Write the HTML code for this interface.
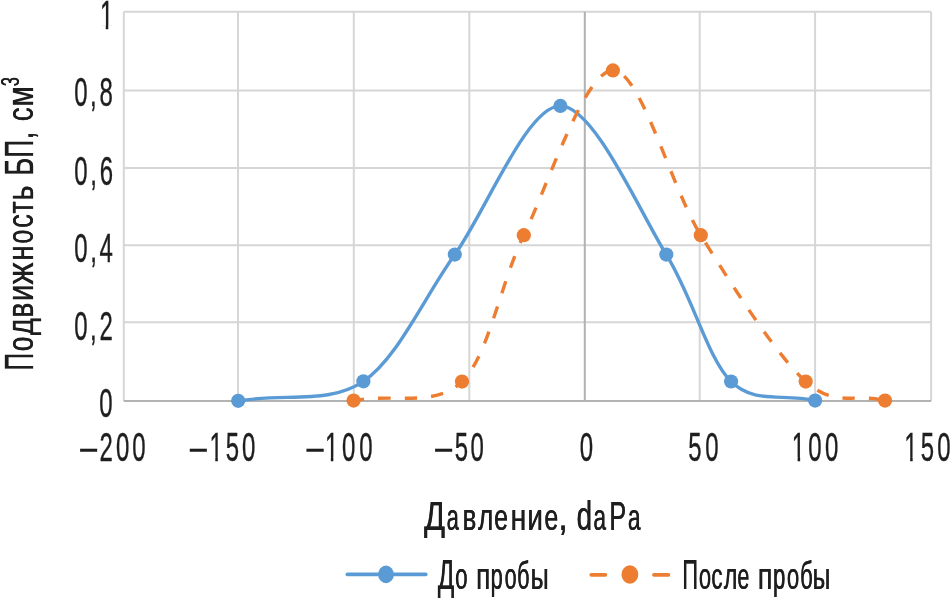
<!DOCTYPE html>
<html><head><meta charset="utf-8"><style>
html,body{margin:0;padding:0;background:#fff;}
svg{display:block;will-change:transform;}
.t{font-family:"Liberation Sans",sans-serif;fill:#1e1e1e;stroke:#1e1e1e;stroke-width:0.4;font-kerning:none;}
.tt{font-family:"Liberation Sans",sans-serif;fill:#1e1e1e;stroke:#1e1e1e;stroke-width:0.15;font-kerning:none;}
</style></head><body>
<svg width="951" height="611" viewBox="0 0 951 611">
<defs><clipPath id="c1" clipPathUnits="userSpaceOnUse"><rect x="-10" y="-45" width="50" height="41.3"/><rect x="10.0" y="-4" width="4.25" height="14"/></clipPath></defs>
<rect x="0" y="0" width="951" height="611" fill="#fff"/>
<line x1="123.80" y1="11.80" x2="123.80" y2="401.00" stroke="#d6d6d6" stroke-width="2"/>
<line x1="238.00" y1="11.80" x2="238.00" y2="401.00" stroke="#d6d6d6" stroke-width="2"/>
<line x1="353.80" y1="11.80" x2="353.80" y2="401.00" stroke="#d6d6d6" stroke-width="2"/>
<line x1="469.30" y1="11.80" x2="469.30" y2="401.00" stroke="#d6d6d6" stroke-width="2"/>
<line x1="699.70" y1="11.80" x2="699.70" y2="401.00" stroke="#d6d6d6" stroke-width="2"/>
<line x1="815.10" y1="11.80" x2="815.10" y2="401.00" stroke="#d6d6d6" stroke-width="2"/>
<line x1="931.10" y1="11.80" x2="931.10" y2="401.00" stroke="#d6d6d6" stroke-width="2"/>
<line x1="123.80" y1="11.80" x2="931.10" y2="11.80" stroke="#d6d6d6" stroke-width="2"/>
<line x1="123.80" y1="90.60" x2="931.10" y2="90.60" stroke="#d6d6d6" stroke-width="2"/>
<line x1="123.80" y1="168.00" x2="931.10" y2="168.00" stroke="#d6d6d6" stroke-width="2"/>
<line x1="123.80" y1="245.30" x2="931.10" y2="245.30" stroke="#d6d6d6" stroke-width="2"/>
<line x1="123.80" y1="322.30" x2="931.10" y2="322.30" stroke="#d6d6d6" stroke-width="2"/>
<line x1="584.80" y1="11.80" x2="584.80" y2="401.00" stroke="#b2b2b2" stroke-width="2"/>
<line x1="123.80" y1="401.00" x2="931.10" y2="401.00" stroke="#b2b2b2" stroke-width="2"/>
<path d="M238.20,400.80 C287.65,393.10 329.18,404.40 363.40,381.30 C397.62,358.20 423.67,298.11 454.80,254.60 C485.93,211.09 526.98,105.90 560.40,105.90 C593.82,105.90 639.33,211.06 666.30,254.60 C693.27,298.14 707.59,358.43 731.10,381.50 C754.61,404.57 781.92,393.06 815.10,400.60" fill="none" stroke="#5b9bd5" stroke-width="3.40" stroke-linecap="round" stroke-linejoin="round"/>
<path d="M353.60,400.60 C396.42,393.10 435.11,407.73 462.00,381.60 C488.89,355.47 499.96,284.37 523.80,235.20 C547.64,186.03 584.93,70.40 612.90,70.40 C640.87,70.40 670.34,186.03 700.80,235.20 C731.26,284.37 776.60,355.47 805.70,381.60 C834.80,407.73 853.68,393.10 885.00,400.60" fill="none" stroke="#ed7d31" stroke-width="3.40" stroke-dasharray="12.5 14.07" stroke-dashoffset="2.1" stroke-linecap="butt"/>
<circle cx="238.20" cy="400.80" r="7.10" fill="#5b9bd5"/>
<circle cx="363.40" cy="381.30" r="7.10" fill="#5b9bd5"/>
<circle cx="454.80" cy="254.60" r="7.10" fill="#5b9bd5"/>
<circle cx="560.40" cy="105.90" r="7.10" fill="#5b9bd5"/>
<circle cx="666.30" cy="254.60" r="7.10" fill="#5b9bd5"/>
<circle cx="731.10" cy="381.50" r="7.10" fill="#5b9bd5"/>
<circle cx="815.10" cy="400.60" r="7.10" fill="#5b9bd5"/>
<circle cx="353.60" cy="400.60" r="7.10" fill="#ed7d31"/>
<circle cx="462.00" cy="381.60" r="7.10" fill="#ed7d31"/>
<circle cx="523.80" cy="235.20" r="7.10" fill="#ed7d31"/>
<circle cx="612.90" cy="70.40" r="7.10" fill="#ed7d31"/>
<circle cx="700.80" cy="235.20" r="7.10" fill="#ed7d31"/>
<circle cx="805.70" cy="381.60" r="7.10" fill="#ed7d31"/>
<circle cx="885.00" cy="400.60" r="7.10" fill="#ed7d31"/>
<line x1="347.3" y1="574.4" x2="425.8" y2="574.4" stroke="#5b9bd5" stroke-width="3.6" stroke-linecap="round"/>
<ellipse cx="386.0" cy="574.4" rx="7.9" ry="8.8" fill="#5b9bd5"/>
<line x1="591.3" y1="574.8" x2="605.3" y2="574.8" stroke="#ed7d31" stroke-width="3.8" stroke-linecap="round"/>
<line x1="654.0" y1="574.8" x2="668.4" y2="574.8" stroke="#ed7d31" stroke-width="3.8" stroke-linecap="round"/>
<ellipse cx="629.9" cy="574.5" rx="8.4" ry="9.2" fill="#ed7d31"/>
<text class="t" transform="translate(99.92,28.90) scale(0.5850,1.0000)" font-size="41.00" clip-path="url(#c1)">1</text>
<text class="t" transform="translate(74.18,106.20) scale(0.5850,1.0000)" font-size="41.00">0</text>
<text class="t" transform="translate(90.12,106.20) scale(0.5850,1.0000)" font-size="41.00">,</text>
<text class="t" transform="translate(99.38,106.20) scale(0.5850,1.0000)" font-size="41.00">8</text>
<text class="t" transform="translate(74.18,184.55) scale(0.5850,1.0000)" font-size="41.00">0</text>
<text class="t" transform="translate(90.29,184.55) scale(0.5850,1.0000)" font-size="41.00">,</text>
<text class="t" transform="translate(99.71,184.55) scale(0.5850,1.0000)" font-size="41.00">6</text>
<text class="t" transform="translate(74.18,262.30) scale(0.5850,1.0000)" font-size="41.00">0</text>
<text class="t" transform="translate(90.21,262.30) scale(0.5850,1.0000)" font-size="41.00">,</text>
<text class="t" transform="translate(99.56,262.30) scale(0.5850,1.0000)" font-size="41.00">4</text>
<text class="t" transform="translate(74.18,339.90) scale(0.5850,1.0000)" font-size="41.00">0</text>
<text class="t" transform="translate(90.12,339.90) scale(0.5850,1.0000)" font-size="41.00">,</text>
<text class="t" transform="translate(99.38,339.90) scale(0.5850,1.0000)" font-size="41.00">2</text>
<text class="t" transform="translate(99.28,417.20) scale(0.5850,1.0000)" font-size="41.00">0</text>
<text class="t" transform="translate(78.49,462.27) scale(0.9605,1.0000)" font-size="36.00">−</text>
<text class="t" transform="translate(99.55,460.80) scale(0.5850,1.0000)" font-size="41.00">2</text>
<text class="t" transform="translate(115.95,460.80) scale(0.5850,1.0000)" font-size="41.00">0</text>
<text class="t" transform="translate(132.36,460.80) scale(0.5850,1.0000)" font-size="41.00">0</text>
<text class="t" transform="translate(188.29,462.27) scale(0.9605,1.0000)" font-size="36.00">−</text>
<text class="t" transform="translate(209.47,460.80) scale(0.5850,1.0000)" font-size="41.00" clip-path="url(#c1)">1</text>
<text class="t" transform="translate(225.79,460.80) scale(0.5850,1.0000)" font-size="41.00">5</text>
<text class="t" transform="translate(242.12,460.80) scale(0.5850,1.0000)" font-size="41.00">0</text>
<text class="t" transform="translate(305.09,462.27) scale(0.9605,1.0000)" font-size="36.00">−</text>
<text class="t" transform="translate(324.99,460.80) scale(0.5850,1.0000)" font-size="41.00" clip-path="url(#c1)">1</text>
<text class="t" transform="translate(342.10,460.80) scale(0.5850,1.0000)" font-size="41.00">0</text>
<text class="t" transform="translate(359.20,460.80) scale(0.5850,1.0000)" font-size="41.00">0</text>
<text class="t" transform="translate(433.39,462.27) scale(0.9605,1.0000)" font-size="36.00">−</text>
<text class="t" transform="translate(454.64,460.80) scale(0.5850,1.0000)" font-size="41.00">5</text>
<text class="t" transform="translate(470.60,460.80) scale(0.5850,1.0000)" font-size="41.00">0</text>
<text class="t" transform="translate(579.63,460.80) scale(0.5850,1.0000)" font-size="41.00">0</text>
<text class="t" transform="translate(688.34,460.80) scale(0.5850,1.0000)" font-size="41.00">5</text>
<text class="t" transform="translate(705.30,460.80) scale(0.5850,1.0000)" font-size="41.00">0</text>
<text class="t" transform="translate(791.79,460.80) scale(0.5850,1.0000)" font-size="41.00" clip-path="url(#c1)">1</text>
<text class="t" transform="translate(808.35,460.80) scale(0.5850,1.0000)" font-size="41.00">0</text>
<text class="t" transform="translate(824.90,460.80) scale(0.5850,1.0000)" font-size="41.00">0</text>
<text class="t" transform="translate(904.30,460.80) scale(0.5850,1.0000)" font-size="41.00" clip-path="url(#c1)">1</text>
<text class="t" transform="translate(920.73,460.80) scale(0.5850,1.0000)" font-size="41.00">5</text>
<text class="t" transform="translate(937.17,460.80) scale(0.5850,1.0000)" font-size="41.00">0</text>
<text class="tt" transform="translate(424.07,529.60) scale(0.7526,1.0000)" font-size="41.00">Д</text>
<text class="tt" transform="translate(424.37,529.60) scale(0.7526,1.0000)" font-size="41.00">Д</text>
<text class="tt" transform="translate(446.47,529.60) scale(0.5365,0.9000)" font-size="41.00">а</text>
<text class="tt" transform="translate(446.77,529.60) scale(0.5365,0.9000)" font-size="41.00">а</text>
<text class="tt" transform="translate(462.51,529.60) scale(0.6295,0.9000)" font-size="41.00">в</text>
<text class="tt" transform="translate(462.81,529.60) scale(0.6295,0.9000)" font-size="41.00">в</text>
<text class="tt" transform="translate(477.96,529.60) scale(0.6328,0.9000)" font-size="41.00">л</text>
<text class="tt" transform="translate(478.26,529.60) scale(0.6328,0.9000)" font-size="41.00">л</text>
<text class="tt" transform="translate(494.04,529.60) scale(0.6081,0.9000)" font-size="41.00">е</text>
<text class="tt" transform="translate(494.34,529.60) scale(0.6081,0.9000)" font-size="41.00">е</text>
<text class="tt" transform="translate(510.44,529.60) scale(0.6900,0.9000)" font-size="41.00">н</text>
<text class="tt" transform="translate(510.74,529.60) scale(0.6900,0.9000)" font-size="41.00">н</text>
<text class="tt" transform="translate(527.27,529.60) scale(0.6796,0.9000)" font-size="41.00">и</text>
<text class="tt" transform="translate(527.57,529.60) scale(0.6796,0.9000)" font-size="41.00">и</text>
<text class="tt" transform="translate(544.14,529.60) scale(0.6081,0.9000)" font-size="41.00">е</text>
<text class="tt" transform="translate(544.44,529.60) scale(0.6081,0.9000)" font-size="41.00">е</text>
<text class="tt" transform="translate(558.18,529.60) scale(0.8201,1.0000)" font-size="41.00">,</text>
<text class="tt" transform="translate(558.48,529.60) scale(0.8201,1.0000)" font-size="41.00">,</text>
<text class="tt" transform="translate(576.53,529.60) scale(0.6779,0.9750)" font-size="41.00">d</text>
<text class="tt" transform="translate(576.83,529.60) scale(0.6779,0.9750)" font-size="41.00">d</text>
<text class="tt" transform="translate(593.13,529.60) scale(0.5555,0.9000)" font-size="41.00">a</text>
<text class="tt" transform="translate(593.43,529.60) scale(0.5555,0.9000)" font-size="41.00">a</text>
<text class="tt" transform="translate(609.23,529.60) scale(0.6141,1.0000)" font-size="41.00">P</text>
<text class="tt" transform="translate(609.53,529.60) scale(0.6141,1.0000)" font-size="41.00">P</text>
<text class="tt" transform="translate(627.63,529.60) scale(0.5555,0.9000)" font-size="41.00">a</text>
<text class="tt" transform="translate(627.93,529.60) scale(0.5555,0.9000)" font-size="41.00">a</text>
<text class="tt" transform="translate(437.82,588.90) scale(0.5780,1.0000)" font-size="41.70">Д</text>
<text class="tt" transform="translate(438.12,588.90) scale(0.5780,1.0000)" font-size="41.70">Д</text>
<text class="tt" transform="translate(455.06,588.90) scale(0.5384,0.9000)" font-size="41.70">о</text>
<text class="tt" transform="translate(455.36,588.90) scale(0.5384,0.9000)" font-size="41.70">о</text>
<text class="tt" transform="translate(475.99,588.90) scale(0.6251,0.9000)" font-size="41.70">п</text>
<text class="tt" transform="translate(476.29,588.90) scale(0.6251,0.9000)" font-size="41.70">п</text>
<text class="tt" transform="translate(490.40,588.90) scale(0.5226,0.9000)" font-size="41.70">р</text>
<text class="tt" transform="translate(490.70,588.90) scale(0.5226,0.9000)" font-size="41.70">р</text>
<text class="tt" transform="translate(504.49,588.90) scale(0.5180,0.9000)" font-size="41.70">о</text>
<text class="tt" transform="translate(504.79,588.90) scale(0.5180,0.9000)" font-size="41.70">о</text>
<text class="tt" transform="translate(517.03,588.90) scale(0.5180,0.9500)" font-size="41.70">б</text>
<text class="tt" transform="translate(517.33,588.90) scale(0.5180,0.9500)" font-size="41.70">б</text>
<text class="tt" transform="translate(530.55,588.90) scale(0.6036,0.9000)" font-size="41.70">ы</text>
<text class="tt" transform="translate(530.85,588.90) scale(0.6036,0.9000)" font-size="41.70">ы</text>
<text class="tt" transform="translate(682.24,588.90) scale(0.5195,1.0000)" font-size="41.70">П</text>
<text class="tt" transform="translate(682.54,588.90) scale(0.5195,1.0000)" font-size="41.70">П</text>
<text class="tt" transform="translate(698.68,588.90) scale(0.5282,0.9000)" font-size="41.70">о</text>
<text class="tt" transform="translate(698.98,588.90) scale(0.5282,0.9000)" font-size="41.70">о</text>
<text class="tt" transform="translate(711.25,588.90) scale(0.5340,0.9000)" font-size="41.70">с</text>
<text class="tt" transform="translate(711.55,588.90) scale(0.5340,0.9000)" font-size="41.70">с</text>
<text class="tt" transform="translate(723.78,588.90) scale(0.5515,0.9000)" font-size="41.70">л</text>
<text class="tt" transform="translate(724.08,588.90) scale(0.5515,0.9000)" font-size="41.70">л</text>
<text class="tt" transform="translate(737.29,588.90) scale(0.5162,0.9000)" font-size="41.70">е</text>
<text class="tt" transform="translate(737.59,588.90) scale(0.5162,0.9000)" font-size="41.70">е</text>
<text class="tt" transform="translate(757.74,588.90) scale(0.6429,0.9000)" font-size="41.70">п</text>
<text class="tt" transform="translate(758.04,588.90) scale(0.6429,0.9000)" font-size="41.70">п</text>
<text class="tt" transform="translate(772.87,588.90) scale(0.5333,0.9000)" font-size="41.70">р</text>
<text class="tt" transform="translate(773.17,588.90) scale(0.5333,0.9000)" font-size="41.70">р</text>
<text class="tt" transform="translate(786.77,588.90) scale(0.5333,0.9000)" font-size="41.70">о</text>
<text class="tt" transform="translate(787.07,588.90) scale(0.5333,0.9000)" font-size="41.70">о</text>
<text class="tt" transform="translate(799.91,588.90) scale(0.5282,0.9500)" font-size="41.70">б</text>
<text class="tt" transform="translate(800.21,588.90) scale(0.5282,0.9500)" font-size="41.70">б</text>
<text class="tt" transform="translate(812.49,588.90) scale(0.5912,0.9000)" font-size="41.70">ы</text>
<text class="tt" transform="translate(812.79,588.90) scale(0.5912,0.9000)" font-size="41.70">ы</text>
<text class="tt" transform="translate(33.30,0) rotate(-90) translate(-370.57,0) scale(0.5938,1.0000)" font-size="41.00">П</text>
<text class="tt" transform="translate(33.30,0) rotate(-90) translate(-370.27,0) scale(0.5938,1.0000)" font-size="41.00">П</text>
<text class="tt" transform="translate(33.30,0) rotate(-90) translate(-351.30,0) scale(0.6405,0.9000)" font-size="41.00">о</text>
<text class="tt" transform="translate(33.30,0) rotate(-90) translate(-351.00,0) scale(0.6405,0.9000)" font-size="41.00">о</text>
<text class="tt" transform="translate(33.30,0) rotate(-90) translate(-335.18,0) scale(0.7055,0.9000)" font-size="41.00">д</text>
<text class="tt" transform="translate(33.30,0) rotate(-90) translate(-334.88,0) scale(0.7055,0.9000)" font-size="41.00">д</text>
<text class="tt" transform="translate(33.30,0) rotate(-90) translate(-317.86,0) scale(0.6878,0.9000)" font-size="41.00">в</text>
<text class="tt" transform="translate(33.30,0) rotate(-90) translate(-317.56,0) scale(0.6878,0.9000)" font-size="41.00">в</text>
<text class="tt" transform="translate(33.30,0) rotate(-90) translate(-301.35,0) scale(0.7202,0.9000)" font-size="41.00">и</text>
<text class="tt" transform="translate(33.30,0) rotate(-90) translate(-301.05,0) scale(0.7202,0.9000)" font-size="41.00">и</text>
<text class="tt" transform="translate(33.30,0) rotate(-90) translate(-284.61,0) scale(0.7957,0.9000)" font-size="41.00">ж</text>
<text class="tt" transform="translate(33.30,0) rotate(-90) translate(-284.31,0) scale(0.7957,0.9000)" font-size="41.00">ж</text>
<text class="tt" transform="translate(33.30,0) rotate(-90) translate(-260.56,0) scale(0.6546,0.9000)" font-size="41.00">н</text>
<text class="tt" transform="translate(33.30,0) rotate(-90) translate(-260.26,0) scale(0.6546,0.9000)" font-size="41.00">н</text>
<text class="tt" transform="translate(33.30,0) rotate(-90) translate(-243.85,0) scale(0.6095,0.9000)" font-size="41.00">о</text>
<text class="tt" transform="translate(33.30,0) rotate(-90) translate(-243.55,0) scale(0.6095,0.9000)" font-size="41.00">о</text>
<text class="tt" transform="translate(33.30,0) rotate(-90) translate(-227.96,0) scale(0.6675,0.9000)" font-size="41.00">с</text>
<text class="tt" transform="translate(33.30,0) rotate(-90) translate(-227.66,0) scale(0.6675,0.9000)" font-size="41.00">с</text>
<text class="tt" transform="translate(33.30,0) rotate(-90) translate(-213.75,0) scale(0.6445,0.9000)" font-size="41.00">т</text>
<text class="tt" transform="translate(33.30,0) rotate(-90) translate(-213.45,0) scale(0.6445,0.9000)" font-size="41.00">т</text>
<text class="tt" transform="translate(33.30,0) rotate(-90) translate(-200.59,0) scale(0.7009,0.9000)" font-size="41.00">ь</text>
<text class="tt" transform="translate(33.30,0) rotate(-90) translate(-200.29,0) scale(0.7009,0.9000)" font-size="41.00">ь</text>
<text class="tt" transform="translate(33.30,0) rotate(-90) translate(-175.73,0) scale(0.6629,1.0000)" font-size="41.00">Б</text>
<text class="tt" transform="translate(33.30,0) rotate(-90) translate(-175.43,0) scale(0.6629,1.0000)" font-size="41.00">Б</text>
<text class="tt" transform="translate(33.30,0) rotate(-90) translate(-157.67,0) scale(0.5938,1.0000)" font-size="41.00">П</text>
<text class="tt" transform="translate(33.30,0) rotate(-90) translate(-157.37,0) scale(0.5938,1.0000)" font-size="41.00">П</text>
<text class="tt" transform="translate(33.30,0) rotate(-90) translate(-138.99,0) scale(0.6213,1.0000)" font-size="41.00">,</text>
<text class="tt" transform="translate(33.30,0) rotate(-90) translate(-138.69,0) scale(0.6213,1.0000)" font-size="41.00">,</text>
<text class="tt" transform="translate(33.30,0) rotate(-90) translate(-121.36,0) scale(0.6675,0.9000)" font-size="41.00">с</text>
<text class="tt" transform="translate(33.30,0) rotate(-90) translate(-121.06,0) scale(0.6675,0.9000)" font-size="41.00">с</text>
<text class="tt" transform="translate(33.30,0) rotate(-90) translate(-106.64,0) scale(0.7193,0.9000)" font-size="41.00">м</text>
<text class="tt" transform="translate(33.30,0) rotate(-90) translate(-106.34,0) scale(0.7193,0.9000)" font-size="41.00">м</text>
<text class="tt" transform="translate(19.30,0) rotate(-90) translate(-86.22,0) scale(0.6246,1.0000)" font-size="26.00">3</text>
<text class="tt" transform="translate(19.30,0) rotate(-90) translate(-85.92,0) scale(0.6246,1.0000)" font-size="26.00">3</text>
</svg>
</body></html>
